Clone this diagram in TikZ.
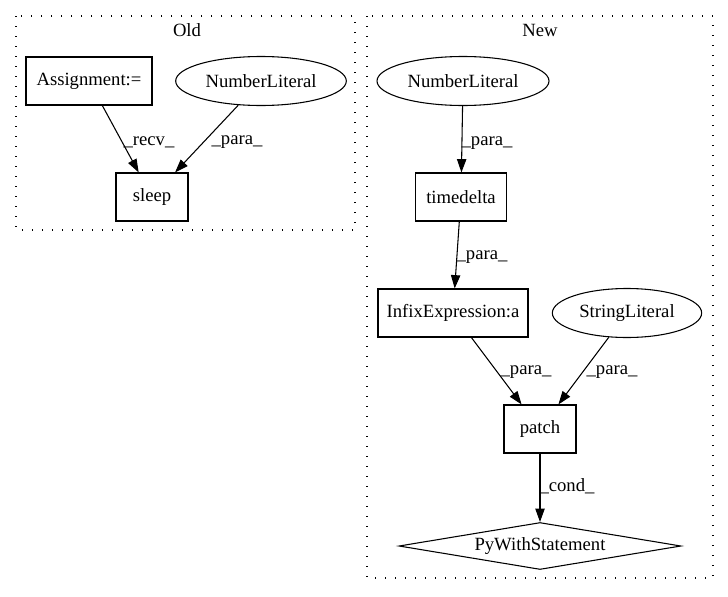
\documentclass[tikz,border=0pt]{standalone}
\usepackage{fontspec}
\setmainfont{Liberation Serif}
\usetikzlibrary{arrows.meta,shapes.geometric}
\begin{document}
\begin{tikzpicture}[x=0.75pt,y=-0.75pt,
  font=\fontsize{14}{16}\selectfont,
  box/.style={draw, rectangle, minimum height=36pt, inner sep=0pt, line width=0.8pt},
  ell/.style={draw, ellipse, minimum height=36.75pt, inner sep=0pt, line width=0.8pt},
  dia/.style={draw, diamond, aspect=6, inner sep=0pt, line width=0.8pt},
  edgearrow/.style={-{Triangle[length=10pt,width=7pt]}, line width=0.8pt},
  cluster/.style={draw, line width=0.9pt, dash pattern=on 1pt off 6.5pt},
  lbl/.style={inner sep=0pt}]
\useasboundingbox (0,0) rectangle (728,596);
% clusters
\draw[cluster] (16,16) rectangle (355,230);
\draw[cluster] (367,16) rectangle (713,578);
\node[lbl] (told) at (187,30) {Old};
\node[lbl] (tnew) at (540,30) {New};
% Old nodes
\node[box, minimum width=94.5pt] (assign) at (89,81) {Assignment:=};
\node[ell, minimum width=128pt] (nl1) at (261,81) {NumberLiteral};
\node[box, minimum width=54pt] (sleep) at (152,197) {sleep};
% New nodes
\node[ell, minimum width=129pt] (nl2) at (463,81) {NumberLiteral};
\node[box, minimum width=68pt] (td) at (461,197) {timedelta};
\node[box, minimum width=112.5pt] (infix) at (453,313) {InfixExpression:a};
\node[ell, minimum width=112pt] (sl) at (627,313) {StringLiteral};
\node[box, minimum width=54pt] (patch) at (540,429) {patch};
\node[dia, minimum width=211.5pt, minimum height=35.25pt] (pws) at (540,546) {PyWithStatement};
% edges
\draw[edgearrow] (assign) -- (sleep);
\draw[edgearrow] (nl1) -- (sleep);
\draw[edgearrow] (nl2) -- (td);
\draw[edgearrow] (td) -- (infix);
\draw[edgearrow] (infix) -- (patch);
\draw[edgearrow] (sl) -- (patch);
\draw[edgearrow] (patch) -- (pws);
% edge labels
\node[lbl] (l1) at (149,142) {\_recv\_};
\node[lbl] (l2) at (237,142) {\_para\_};
\node[lbl] (l3) at (487,143) {\_para\_};
\node[lbl] (l4) at (482,257) {\_para\_};
\node[lbl] (l5) at (526,372) {\_para\_};
\node[lbl] (l6) at (612,372) {\_para\_};
\node[lbl] (l7) at (567,486) {\_cond\_};
\end{tikzpicture}
\end{document}
